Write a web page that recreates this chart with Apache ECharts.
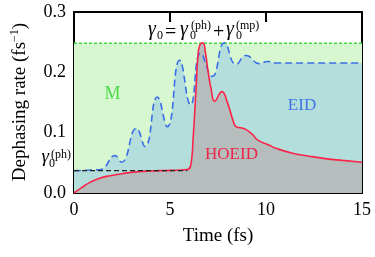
<!DOCTYPE html>
<html><head><meta charset="utf-8">
<script src="https://cdn.jsdelivr.net/npm/echarts@6/dist/echarts.min.js"></script>
<style>html,body{margin:0;padding:0;background:#fff}#c{width:375px;height:257px}</style>
</head><body><div id="c"></div>
<script>
// ---- data ----
const xTickValues = [0, 5, 10, 15];
const yTickValues = [0.0, 0.1, 0.2, 0.3];

// EID (blue dashed) dephasing rate vs time (fs)
const eidTime = [0, 0.8, 1.4, 2.13, 2.47, 3.25, 3.70, 4.34, 4.86, 5.5, 6.07, 6.6, 7.2, 7.84, 8.44, 8.96, 9.65, 10.08, 10.5, 12, 15];
const eidRate = [0.037, 0.038, 0.039, 0.062, 0.051, 0.107, 0.077, 0.159, 0.110, 0.220, 0.146, 0.232, 0.193, 0.249, 0.213, 0.228, 0.2145, 0.218, 0.2155, 0.2155, 0.2155];

// HOEID (red) dephasing rate vs time (fs)
const hoeidTime = [0, 0.4, 0.83, 1.3, 1.87, 2.5, 3.25, 4.0, 5.0, 5.9, 6.1, 6.2, 6.28, 6.37, 6.45, 6.55, 6.71, 6.85, 6.97, 7.15, 7.32, 7.7, 8.0, 8.27, 8.44, 8.7, 8.96, 9.3, 9.56, 10.17, 10.52, 11.38, 12.25, 13.1, 14.0, 15.0];
const hoeidRate = [0, 0.009, 0.0176, 0.024, 0.0287, 0.032, 0.035, 0.0365, 0.0375, 0.039, 0.05, 0.088, 0.13, 0.18, 0.225, 0.245, 0.249, 0.232, 0.2045, 0.171, 0.152, 0.168, 0.149, 0.1215, 0.110, 0.108, 0.105, 0.097, 0.088, 0.079, 0.074, 0.066, 0.061, 0.057, 0.054, 0.051];

// gamma_0 total and phonon-only levels
const totalTime = [0, 15];
const totalRate = [0.248, 0.248];
const phTime = [0, 5.9];
const phRate = [0.037, 0.037];

// ---- build chart ----
const pairs = (xs, ys) => xs.map((x, i) => [x, ys[i]]);
const FONT = 'Liberation Serif';
const chart = echarts.init(document.getElementById('c'), null, {renderer: 'canvas'});

const axisCommon = {
  type: 'value',
  axisLine: {show: true, onZero: false, lineStyle: {color: '#000', width: 2}},
  splitLine: {show: false},
  axisTick: {show: true, inside: true, lineStyle: {color: '#000', width: 2}},
};

function txt(x, y, text, size, extra) {
  return {type: 'text', x: x, y: y, z: 100,
    style: Object.assign({text: text, fontFamily: FONT, fontSize: size, fill: '#000', align: 'left', verticalAlign: 'middle'}, extra || {})};
}
const it = {fontStyle: 'italic'};

chart.setOption({
  animation: false,
  backgroundColor: '#fff',
  grid: {left: 74, right: 13, top: 12, bottom: 64},
  xAxis: [
    Object.assign({}, axisCommon, {position: 'bottom', min: xTickValues[0], max: xTickValues[xTickValues.length - 1], interval: 5,
      axisTick: Object.assign({}, axisCommon.axisTick, {length: 10}),
      axisLabel: {show: true, margin: 8, color: '#000', fontFamily: FONT, fontSize: 18}}),
    Object.assign({}, axisCommon, {position: 'top', min: 0, max: 15, interval: 5,
      axisTick: Object.assign({}, axisCommon.axisTick, {length: 10}),
      axisLabel: {show: false}})
  ],
  yAxis: [
    Object.assign({}, axisCommon, {position: 'left', min: yTickValues[0], max: yTickValues[yTickValues.length - 1], interval: 0.1,
      axisTick: Object.assign({}, axisCommon.axisTick, {length: 8}),
      axisLabel: {show: true, margin: 8, color: '#000', fontFamily: FONT, fontSize: 18, formatter: v => v.toFixed(1)}}),
    Object.assign({}, axisCommon, {position: 'right', min: 0, max: 0.3, interval: 0.1,
      axisTick: Object.assign({}, axisCommon.axisTick, {length: 8}),
      axisLabel: {show: false}})
  ],
  series: [
    {type: 'line', data: pairs(totalTime, totalRate), showSymbol: false, silent: true,
      lineStyle: {color: '#3ddc3d', width: 1.5, type: [3, 2]},
      areaStyle: {color: '#d6f7cf', opacity: 1}},
    {type: 'line', data: pairs(eidTime, eidRate), showSymbol: false, silent: true,
      smooth: 0.5,
      lineStyle: {color: '#3b6fe8', width: 1.6, type: [7, 4]},
      areaStyle: {color: '#b4dedc', opacity: 1}},
    {type: 'line', data: pairs(hoeidTime, hoeidRate), showSymbol: false, silent: true,
      smooth: 0.5,
      lineStyle: {color: '#fa2448', width: 1.6},
      areaStyle: {color: '#b5bdbd', opacity: 1}},
    {type: 'line', data: pairs(phTime, phRate), showSymbol: false, silent: true,
      lineStyle: {color: '#222', width: 1.2, type: [5, 3]}}
  ],
  graphic: [
    // gamma_0 = gamma_0^(ph) + gamma_0^(mp)
    txt(148, 30, 'γ', 20, it), txt(157, 36, '0', 12),
    txt(165, 33, '=', 20),
    txt(180, 30, 'γ', 20, it), txt(190, 36, '0', 12), txt(191, 26, '(ph)', 12),
    txt(213, 33, '+', 20),
    txt(226, 30, 'γ', 20, it), txt(236, 36, '0', 12), txt(236, 26, '(mp)', 12),
    // gamma_0^(ph) at left
    txt(41.5, 157, 'γ', 19, it), txt(49, 164, '0', 12), txt(51, 155, '(ph)', 12),
    // region labels
    txt(112.5, 94, 'M', 18, {align: 'center', fill: '#4cd94c'}),
    txt(302, 105.5, 'EID', 17, {align: 'center', fill: '#3f74e6'}),
    txt(231.5, 155, 'HOEID', 17, {align: 'center', fill: '#f0244a'}),
    // axis titles
    txt(218, 236, 'Time (fs)', 19, {align: 'center'}),
    {type: 'text', x: 20, y: 102, rotation: Math.PI / 2, z: 100,
      style: {text: '{a|Dephasing rate (fs}{s|−1}{a|)}', align: 'center', verticalAlign: 'middle',
        rich: {a: {fontFamily: FONT, fontSize: 19, lineHeight: 22, fill: '#000'},
               s: {fontFamily: FONT, fontSize: 12, lineHeight: 22, verticalAlign: 'top', fill: '#000'}}}}
  ]
});
</script></body></html>
